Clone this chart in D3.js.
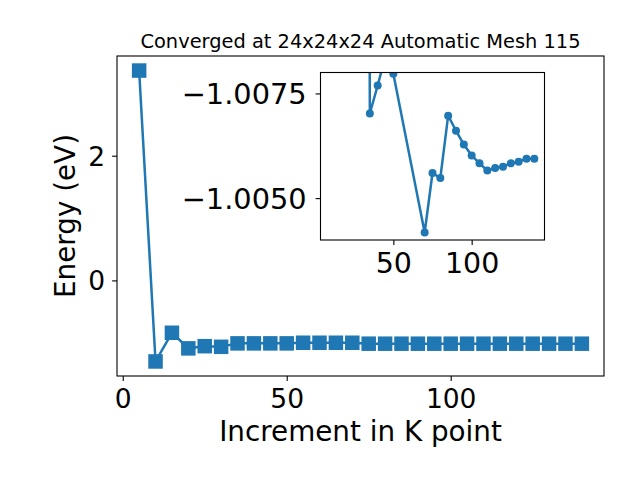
<!DOCTYPE html>
<html>
<head>
<meta charset="utf-8">
<script src="https://cdn.jsdelivr.net/npm/d3@7"></script>
<style>
  html, body { margin: 0; padding: 0; background: #fff; }
  svg { display: block; font-family: "DejaVu Sans", sans-serif; }
</style>
</head>
<body>
<svg id="chart" width="640" height="480"></svg>
<script>
// ---- data ----
const kPoints = [5,10,15,20,25,30,35,40,45,50,55,60,65,70,75,80,85,90,95,100,105,110,115,120,125,130,135,140];
const energies = [3.366,-1.30,-0.84,-1.09,-1.055,-1.065,-1.01,-1.01,-1.01,-1.01,-1.0,-1.0,-1.0,-1.0,
  -1.015,-1.015,-1.015,-1.015,-1.015,-1.015,-1.015,-1.015,-1.015,-1.015,-1.015,-1.015,-1.015,-1.015];
const insetK = [30,35,40,45,50,70,75,80,85,90,95,100,105,110,115,120,125,130,135,140];
const insetE = [-1.065,-1.00702,-1.00769,-1.0084,-1.00797,-1.00418,-1.00560,-1.00548,-1.00697,-1.00661,
  -1.00628,-1.00602,-1.00583,-1.00566,-1.00572,-1.00575,-1.00583,-1.00587,-1.00594,-1.00594];
const mainXTicks = [0,50,100];
const mainYTicks = [0,2];
const insetXTicks = [50,100];
const insetYTicks = [-1.0075,-1.0050];
const insetXLim = [3.5,146.5];
const insetYLim = [-1.004,-1.008]; // inverted axis (bottom, top)
const titleText = "Converged at 24x24x24 Automatic Mesh 115";
const xLabel = "Increment in K point";
const yLabel = "Energy (eV)";

const color = "#1f77b4";
const svg = d3.select("#chart");

function pad(ext, f) { const s = ext[1]-ext[0]; return [ext[0]-s*f, ext[1]+s*f]; }
const fmtMinus = s => s.replace("-", "\u2212");

// ---- main axes ----
const M = {left:117, right:604, top:56, bottom:376};
const x = d3.scaleLinear().domain(pad(d3.extent(kPoints),0.05)).range([M.left, M.right]);
const y = d3.scaleLinear().domain(pad(d3.extent(energies),0.05)).range([M.bottom, M.top]);

const pts = kPoints.map((k,i)=>[k, energies[i]]);
svg.append("path").datum(pts)
  .attr("fill","none").attr("stroke",color).attr("stroke-width",2.5)
  .attr("stroke-linejoin","round")
  .attr("d", d3.line().x(d=>x(d[0])).y(d=>y(d[1])));
const sq = 14.5;
svg.append("g").selectAll("rect").data(pts).join("rect")
  .attr("x", d=>x(d[0])-sq/2).attr("y", d=>y(d[1])-sq/2)
  .attr("width", sq).attr("height", sq).attr("fill", color);

// frame
svg.append("rect").attr("x",M.left).attr("y",M.top)
  .attr("width",M.right-M.left).attr("height",M.bottom-M.top)
  .attr("fill","none").attr("stroke","#000").attr("stroke-width",1.1);

// x axis
const gx = svg.append("g").attr("transform",`translate(0,${M.bottom})`)
  .call(d3.axisBottom(x).tickValues(mainXTicks).tickSize(4.9).tickPadding(4.9).tickFormat(d3.format("d")));
gx.select(".domain").remove();
gx.selectAll("line").attr("stroke-width",1.1);
gx.selectAll("text").attr("font-size","26.5px").attr("font-family","DejaVu Sans").attr("fill","#000")
  .attr("dy",null).attr("y",31.7);

// y axis
const gy = svg.append("g").attr("transform",`translate(${M.left},0)`)
  .call(d3.axisLeft(y).tickValues(mainYTicks).tickSize(4.9).tickPadding(7).tickFormat(d3.format("d")));
gy.select(".domain").remove();
gy.selectAll("line").attr("stroke-width",1.1);
gy.selectAll("text").attr("font-size","26.5px").attr("font-family","DejaVu Sans").attr("fill","#000")
  .attr("dy","0.36em");

// labels
svg.append("text").attr("x",(M.left+M.right)/2).attr("y",441)
  .attr("text-anchor","middle").attr("font-size","27.8px").text(xLabel);
svg.append("text").attr("transform",`translate(75,${(M.top+M.bottom)/2}) rotate(-90)`)
  .attr("text-anchor","middle").attr("font-size","27.8px").text(yLabel);
svg.append("text").attr("x",(M.left+M.right)/2).attr("y",48.3)
  .attr("text-anchor","middle").attr("font-size","19.4px").text(titleText);

// ---- inset ----
const I = {left:320.5, right:544.5, top:72.5, bottom:240};
const ix = d3.scaleLinear().domain(insetXLim).range([I.left, I.right]);
const iy = d3.scaleLinear().domain(insetYLim).range([I.bottom, I.top]);

svg.append("rect").attr("x",I.left).attr("y",I.top)
  .attr("width",I.right-I.left).attr("height",I.bottom-I.top).attr("fill","#fff");
svg.append("clipPath").attr("id","insetClip").append("rect")
  .attr("x",I.left).attr("y",I.top).attr("width",I.right-I.left).attr("height",I.bottom-I.top);
const ig = svg.append("g").attr("clip-path","url(#insetClip)");
const ipts = insetK.map((k,i)=>[k, insetE[i]]);
ig.append("path").datum(ipts)
  .attr("fill","none").attr("stroke",color).attr("stroke-width",2.5)
  .attr("stroke-linejoin","round")
  .attr("d", d3.line().x(d=>ix(d[0])).y(d=>iy(d[1])));
ig.selectAll("circle").data(ipts).join("circle")
  .attr("cx", d=>ix(d[0])).attr("cy", d=>iy(d[1])).attr("r",4).attr("fill",color);

svg.append("rect").attr("x",I.left).attr("y",I.top)
  .attr("width",I.right-I.left).attr("height",I.bottom-I.top)
  .attr("fill","none").attr("stroke","#000").attr("stroke-width",1.1);

const igx = svg.append("g").attr("transform",`translate(0,${I.bottom})`)
  .call(d3.axisBottom(ix).tickValues(insetXTicks).tickSize(4.9).tickPadding(4.9).tickFormat(d3.format("d")));
igx.select(".domain").remove();
igx.selectAll("line").attr("stroke-width",1.1);
igx.selectAll("text").attr("font-size","28.5px").attr("font-family","DejaVu Sans").attr("fill","#000")
  .attr("dy",null).attr("y",32.7);

const igy = svg.append("g").attr("transform",`translate(${I.left},0)`)
  .call(d3.axisLeft(iy).tickValues(insetYTicks).tickSize(4.9).tickPadding(9).tickFormat(d=>fmtMinus(d3.format(".4f")(d))));
igy.select(".domain").remove();
igy.selectAll("line").attr("stroke-width",1.1);
igy.selectAll("text").attr("font-size","28.8px").attr("font-family","DejaVu Sans").attr("fill","#000")
  .attr("dy","0.36em");
</script>
</body>
</html>
